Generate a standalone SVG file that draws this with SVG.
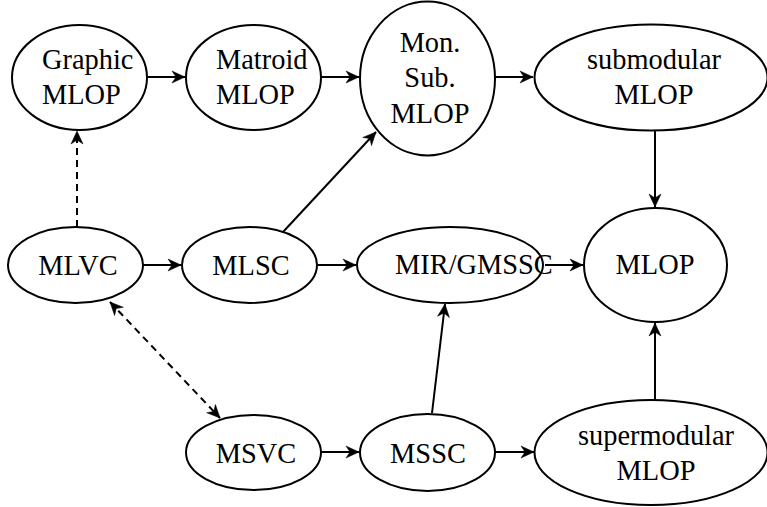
<svg xmlns="http://www.w3.org/2000/svg" width="767" height="507" viewBox="0 0 767 507">
<style>
.n ellipse{fill:#fff;stroke:#000;stroke-width:2}
.n text{font-family:"Liberation Serif","Times New Roman",Tinos,"Nimbus Roman","DejaVu Serif",serif;font-size:28.4px;fill:#000}
.c{text-anchor:middle}
#edges line{stroke:#000;stroke-width:2;fill:none}
#edges .d{stroke-dasharray:7 5}
</style>
<defs>
<marker id="ah" markerUnits="userSpaceOnUse" markerWidth="16" markerHeight="14" viewBox="-14 -7 16 14" refX="0" refY="0" orient="auto-start-reverse">
<path d="M-13,-6 L0,0 L-13,6 L-9,0 Z" fill="#000" stroke="#000" stroke-width="0.5" stroke-linejoin="miter"/>
</marker>
</defs>
<rect width="767" height="507" fill="#fff"/>
<g id="edges">
<line x1="147" y1="77" x2="185" y2="77" marker-end="url(#ah)"/>
<line x1="321" y1="77" x2="359" y2="77" marker-end="url(#ah)"/>
<line x1="495" y1="77" x2="533" y2="77" marker-end="url(#ah)"/>
<line x1="655" y1="130" x2="655" y2="207" marker-end="url(#ah)"/>
<line x1="143" y1="265" x2="181" y2="265" marker-end="url(#ah)"/>
<line x1="317" y1="265" x2="356" y2="265" marker-end="url(#ah)"/>
<line x1="545" y1="265" x2="583" y2="265" marker-end="url(#ah)"/>
<line x1="283" y1="232" x2="376" y2="132" marker-end="url(#ah)"/>
<line x1="321" y1="452" x2="359" y2="452" marker-end="url(#ah)"/>
<line x1="495" y1="452" x2="534" y2="452" marker-end="url(#ah)"/>
<line x1="655" y1="400" x2="655" y2="323" marker-end="url(#ah)"/>
<line x1="432" y1="413" x2="445" y2="304" marker-end="url(#ah)"/>
<line class="d" x1="77" y1="227" x2="77" y2="131" marker-end="url(#ah)"/>
<line class="d" x1="110" y1="302" x2="220" y2="418" marker-start="url(#ah)" marker-end="url(#ah)"/>
</g>
<g id="graphic" class="n"><ellipse cx="79.5" cy="77.5" rx="67.5" ry="52.5"/><text x="42" y="69">Graphic</text><text x="42" y="104">MLOP</text></g>
<g id="matroid" class="n"><ellipse cx="253.5" cy="77.5" rx="67.5" ry="52.5"/><text x="216" y="69">Matroid</text><text x="216" y="104">MLOP</text></g>
<g id="monsub" class="n"><ellipse cx="427.5" cy="78.5" rx="67.5" ry="77"/><text class="c" x="430" y="52">Mon.</text><text class="c" x="430" y="87">Sub.</text><text class="c" x="430" y="123">MLOP</text></g>
<g id="submodular" class="n"><ellipse cx="651" cy="77.5" rx="116.5" ry="53"/><text class="c" x="654" y="69">submodular</text><text class="c" x="654" y="104">MLOP</text></g>
<g id="mlop" class="n"><ellipse cx="655.5" cy="265" rx="71.5" ry="57"/><text class="c" x="655" y="274">MLOP</text></g>
<g id="mlvc" class="n"><ellipse cx="75.5" cy="265" rx="67.5" ry="38"/><text class="c" x="78" y="275">MLVC</text></g>
<g id="mlsc" class="n"><ellipse cx="249.5" cy="265" rx="67.5" ry="38"/><text class="c" x="251" y="275">MLSC</text></g>
<g id="mir" class="n"><ellipse cx="450" cy="265" rx="93" ry="38"/><text x="395" y="274">MIR/GMSSC</text></g>
<g id="msvc" class="n"><ellipse cx="253.5" cy="452.5" rx="67.5" ry="37.5"/><text class="c" x="256" y="463">MSVC</text></g>
<g id="mssc" class="n"><ellipse cx="427.5" cy="452.5" rx="67.5" ry="38.5"/><text class="c" x="428" y="463">MSSC</text></g>
<g id="supermodular" class="n"><ellipse cx="651" cy="452.5" rx="116.5" ry="52.5"/><text class="c" x="656" y="445">supermodular</text><text class="c" x="656" y="480">MLOP</text></g>
</svg>
